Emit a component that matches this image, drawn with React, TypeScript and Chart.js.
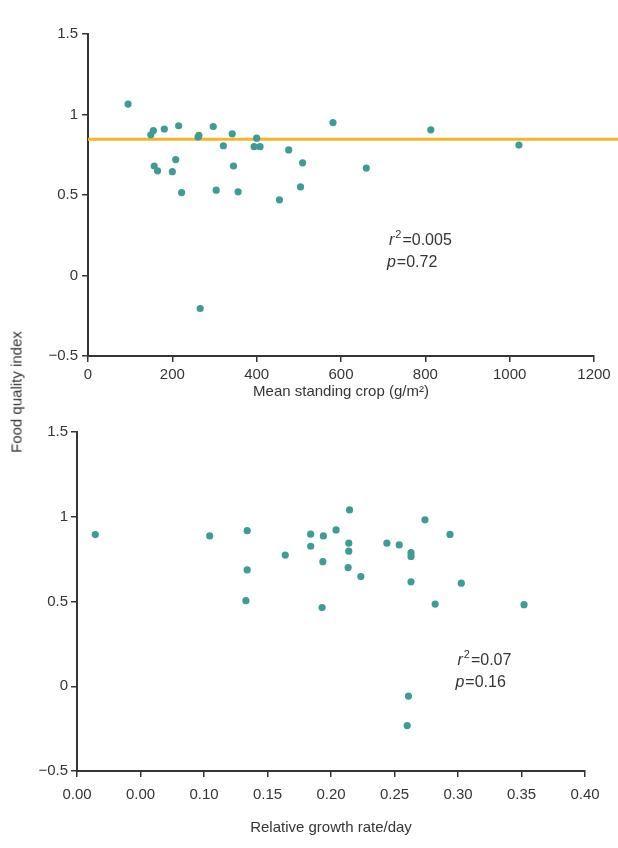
import React, { useEffect, useRef } from "react";
import { Chart, registerables } from "chart.js";
Chart.register(...registerables);

// Top panel: mean standing crop (g/m2) vs food quality index
const cropX = [95, 149, 155, 181, 215, 261, 263, 297, 342, 321, 400, 394, 408, 476, 509, 208, 157, 165, 200, 345, 222, 304, 356, 454, 504, 581, 813, 1022, 660, 266];
const cropY = [1.065, 0.874, 0.9, 0.91, 0.93, 0.86, 0.87, 0.925, 0.88, 0.806, 0.853, 0.8, 0.8, 0.78, 0.7, 0.72, 0.68, 0.65, 0.645, 0.68, 0.515, 0.53, 0.52, 0.47, 0.55, 0.95, 0.905, 0.81, 0.667, -0.205];
const meanQuality = 0.846;
const cropTicks = [0, 200, 400, 600, 800, 1000, 1200];

// Bottom panel: relative growth rate/day vs food quality index
const growthX = [0.0144, 0.1045, 0.134, 0.134, 0.133, 0.164, 0.184, 0.184, 0.194, 0.1936, 0.193, 0.204, 0.2146, 0.214, 0.214, 0.2135, 0.2235, 0.244, 0.2537, 0.263, 0.263, 0.263, 0.274, 0.2937, 0.3026, 0.282, 0.352, 0.261, 0.26];
const growthY = [0.895, 0.887, 0.918, 0.686, 0.505, 0.774, 0.897, 0.826, 0.887, 0.735, 0.464, 0.922, 1.04, 0.844, 0.797, 0.7, 0.647, 0.844, 0.834, 0.788, 0.766, 0.616, 0.982, 0.896, 0.608, 0.485, 0.481, -0.058, -0.232];
const growthTickLabels = ["0.00", "0.00", "0.10", "0.15", "0.20", "0.25", "0.30", "0.35", "0.40"];

const qualityTicks = [-0.5, 0, 0.5, 1, 1.5];

const FONT = '"Liberation Sans", Arial, sans-serif';
const INK = "#353535";
const DOT = "#3f9c92";

function yLabel(v: number) {
  return v < 0 ? "\u2212" + Math.abs(v) : String(v);
}

function statsPlugin(pos: { x: number; y: number }, r2: string, p: string) {
  return {
    id: "stats",
    afterDraw(chart: any) {
      const { ctx, scales } = chart;
      const px = scales.x.getPixelForValue(pos.x);
      const py = scales.y.getPixelForValue(pos.y);
      ctx.save();
      ctx.fillStyle = INK;
      ctx.textBaseline = "alphabetic";
      ctx.textAlign = "left";
      ctx.font = `italic 16px ${FONT}`;
      ctx.fillText("r", px + 2, py);
      let w = ctx.measureText("r").width + 2;
      ctx.font = `11px ${FONT}`;
      ctx.fillText("2", px + w + 1, py - 7);
      w += ctx.measureText("2").width + 1;
      ctx.font = `16px ${FONT}`;
      ctx.fillText("=" + r2, px + w + 1, py);
      ctx.font = `italic 16px ${FONT}`;
      ctx.fillText("p", px, py + 22);
      const w2 = ctx.measureText("p").width;
      ctx.font = `16px ${FONT}`;
      ctx.fillText("=" + p, px + w2 + 1, py + 22);
      ctx.restore();
    },
  };
}

function axisCommon() {
  return {
    grid: { display: true, drawOnChartArea: false, drawTicks: true, tickLength: 6, color: INK, lineWidth: 1.5 },
    border: { display: true, color: INK, width: 2 },
  };
}

function TopChart() {
  const ref = useRef<HTMLCanvasElement>(null);
  useEffect(() => {
    const chart = new Chart(ref.current!, {
      type: "scatter",
      data: {
        datasets: [
          {
            type: "scatter",
            data: cropX.map((x, i) => ({ x, y: cropY[i] })),
            backgroundColor: DOT,
            borderWidth: 0,
            pointRadius: 3.6,
            order: 1,
          } as any,
          {
            type: "line",
            data: [
              { x: 0, y: meanQuality },
              { x: 1260, y: meanQuality },
            ],
            borderColor: "#f6b42a",
            borderWidth: 3,
            pointRadius: 0,
            clip: false,
            order: 2,
          } as any,
        ],
      },
      options: {
        animation: false,
        responsive: false,
        layout: { padding: { left: 0, right: 24, top: 34, bottom: 9 } },
        plugins: { legend: { display: false }, tooltip: { enabled: false } },
        scales: {
          x: {
            type: "linear",
            min: 0,
            max: 1200,
            afterBuildTicks: (s: any) => {
              s.ticks = cropTicks.map((v) => ({ value: v }));
            },
            afterFit: (s: any) => {
              s.height = 45;
            },
            ticks: { color: INK, font: { family: FONT, size: 15 }, padding: 4, maxRotation: 0, callback: (v: any) => String(v) },
            title: { display: true, text: "Mean standing crop (g/m\u00b2)", color: INK, font: { family: FONT, size: 15 }, padding: 0 },
            ...axisCommon(),
          },
          y: {
            type: "linear",
            min: -0.5,
            max: 1.5,
            afterBuildTicks: (s: any) => {
              s.ticks = qualityTicks.map((v) => ({ value: v }));
            },
            afterFit: (s: any) => {
              s.width = 88;
            },
            ticks: { color: INK, font: { family: FONT, size: 15 }, padding: 4, callback: (v: any) => yLabel(Number(v)) },
            ...axisCommon(),
          },
        },
      },
      plugins: [statsPlugin({ x: 709, y: 0.189 }, "0.005", "0.72")],
    } as any);
    return () => chart.destroy();
  }, []);
  return <canvas ref={ref} width={618} height={410} style={{ position: "absolute", left: 0, top: 0, width: 618, height: 410 }} />;
}

function BottomChart() {
  const ref = useRef<HTMLCanvasElement>(null);
  useEffect(() => {
    const chart = new Chart(ref.current!, {
      type: "scatter",
      data: {
        datasets: [
          {
            data: growthX.map((x, i) => ({ x, y: growthY[i] })),
            backgroundColor: DOT,
            borderWidth: 0,
            pointRadius: 3.6,
          },
        ],
      },
      options: {
        animation: false,
        responsive: false,
        layout: { padding: { left: 0, right: 33, top: 22, bottom: 11 } },
        plugins: { legend: { display: false }, tooltip: { enabled: false } },
        scales: {
          x: {
            type: "linear",
            min: 0,
            max: 0.4,
            afterBuildTicks: (s: any) => {
              s.ticks = growthTickLabels.map((_, i) => ({ value: i * 0.05 }));
            },
            afterFit: (s: any) => {
              s.height = 66;
            },
            ticks: {
              color: INK,
              font: { family: FONT, size: 15 },
              padding: 9,
              maxRotation: 0,
              autoSkip: false,
              callback: (_v: any, i: number) => growthTickLabels[i],
            },
            title: { display: true, text: "Relative growth rate/day", color: INK, font: { family: FONT, size: 15 }, padding: 0 },
            ...axisCommon(),
          },
          y: {
            type: "linear",
            min: -0.5,
            max: 1.5,
            afterBuildTicks: (s: any) => {
              s.ticks = qualityTicks.map((v) => ({ value: v }));
            },
            afterFit: (s: any) => {
              s.width = 77;
            },
            ticks: { color: INK, font: { family: FONT, size: 15 }, padding: 3, callback: (v: any) => yLabel(Number(v)) },
            ...axisCommon(),
          },
        },
      },
      plugins: [statsPlugin({ x: 0.298, y: 0.125 }, "0.07", "0.16")],
    } as any);
    return () => chart.destroy();
  }, []);
  return <canvas ref={ref} width={618} height={438} style={{ position: "absolute", left: 0, top: 410, width: 618, height: 438 }} />;
}

export default function App() {
  return (
    <div style={{ position: "absolute", left: 0, top: 0, width: 618, height: 848, background: "#fff", overflow: "hidden" }}>
      <TopChart />
      <BottomChart />
      <div
        style={{
          position: "absolute",
          left: 16,
          top: 392,
          transform: "translate(-50%, -50%) rotate(-90deg)",
          whiteSpace: "nowrap",
          fontFamily: FONT,
          fontSize: 15,
          color: INK,
        }}
      >
        Food quality index
      </div>
    </div>
  );
}
